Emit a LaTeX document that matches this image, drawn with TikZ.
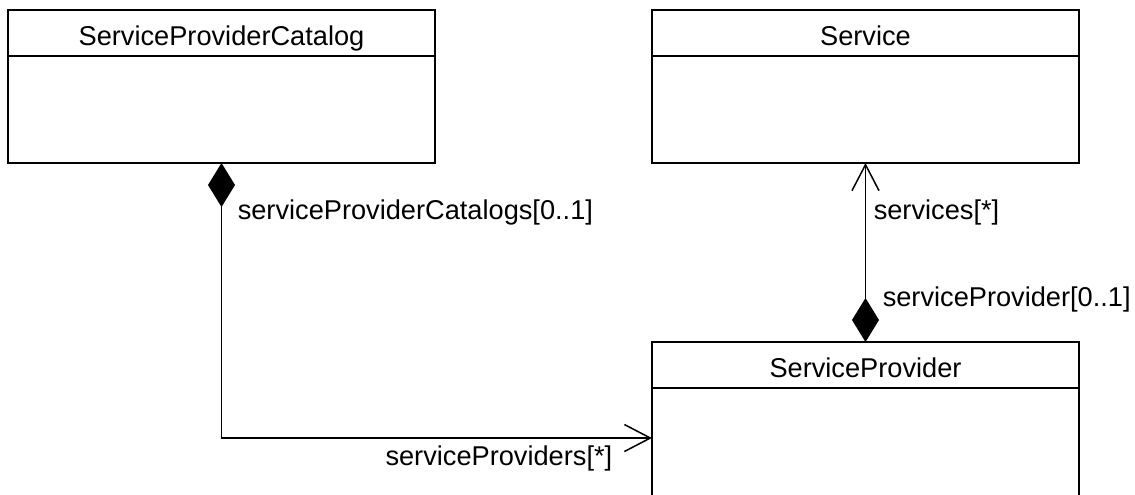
\documentclass[tikz,border=0pt]{standalone}
\usepackage{fontspec}
\setmainfont{Liberation Sans}
\usetikzlibrary{arrows.meta}
\usetikzlibrary{positioning}

\begin{document}
\begin{tikzpicture}[x=0.5pt, y=-0.5pt, line width=0.75pt,
	every node/.style={font=\fontsize{13.6}{16}\selectfont},
	classname/.style={draw, anchor=north west, minimum width=213.5pt, minimum height=23pt, inner sep=0pt, outer sep=0pt, text height=12pt, text depth=0pt},
	classbody/.style={draw, minimum width=213.5pt, minimum height=53.5pt, inner sep=0pt, outer sep=0pt},
	comp/.style={arrows={Diamond[length=22pt,width=13.5pt]-Straight Barb[length=13pt,width=13.5pt]}},
	role/.style={inner sep=0pt}]
	\clip (0,0) rectangle (1135,494);
	%Classes
	\node[classname] (spcname) at (8,10) {ServiceProviderCatalog};
	\node[classbody, below=0pt of spcname] (spcbody) {};
	\node[classname] (svcname) at (652,10) {Service};
	\node[classbody, below=0pt of svcname] (svcbody) {};
	\node[classname] (spname) at (652,342) {ServiceProvider};
	\node[classbody, below=0pt of spname, minimum height=60pt] (spbody) {};
	%Catalog - providers
	\draw[comp] (spcbody.south) |- ([yshift=5pt]spbody.west)
		node[role, pos=0, anchor=base west, xshift=7.75pt, yshift=-28pt] {serviceProviderCatalogs[0..1]}
		node[role, pos=1, anchor=base east, xshift=-19.5pt, yshift=-13.5pt] {serviceProviders[*]};
	%Provider - services
	\draw[comp] (spname.north) -- (svcbody.south)
		node[role, pos=0, anchor=base west, xshift=8.25pt, yshift=18pt] {serviceProvider[0..1]}
		node[role, pos=1, anchor=base west, xshift=3.75pt, yshift=-28pt] {services[*]};
\end{tikzpicture}
\end{document}
